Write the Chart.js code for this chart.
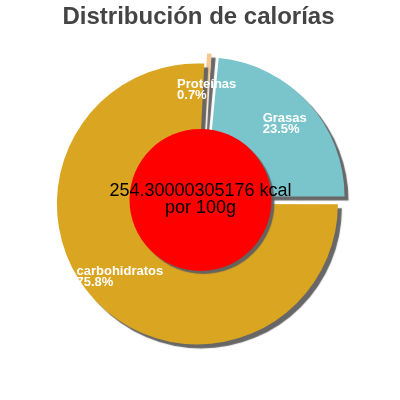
<!DOCTYPE html>
<html>
<head>
<meta charset="utf-8">
<script src="https://cdn.jsdelivr.net/npm/chart.js@4.4.1/dist/chart.umd.min.js"></script>
<style>
  html, body { margin: 0; padding: 0; background: #fff; }
</style>
</head>
<body>
<canvas id="calChart" width="400" height="400"></canvas>
<script>
const nutrients = ['Proteínas', 'Grasas', 'carbohidratos'];
const percents = [0.7, 23.5, 75.8];
const sliceColors = ['#f3c893', '#7ac4cc', '#daa520'];
const sliceOffsets = [22, 38, 6];
const energyLines = ['254.30000305176 kcal', 'por 100g'];
const chartTitle = 'Distribución de calorías';

const FONT = '"Liberation Sans", Arial, sans-serif';

// grey drop shadow under every slice
const shadowPlugin = {
    id: 'sliceShadow',
    beforeDatasetsDraw(chart) {
        const ctx = chart.ctx;
        ctx.save();
        ctx.shadowColor = 'rgba(95,95,95,0.95)';
        ctx.shadowOffsetX = 4;
        ctx.shadowOffsetY = 4;
        ctx.shadowBlur = 1;
    },
    afterDatasetsDraw(chart) {
        chart.ctx.restore();
    }
};

// red disc with the energy value + slice labels
const centerPlugin = {
    id: 'centerInfo',
    afterDraw(chart) {
        const ctx = chart.ctx;
        const meta = chart.getDatasetMeta(0);
        const first = meta.data[0];
        const cx = first.x, cy = first.y;
        const R = first.outerRadius;

        ctx.save();
        ctx.shadowColor = 'rgba(95,95,95,0.95)';
        ctx.shadowOffsetX = 3;
        ctx.shadowOffsetY = 3;
        ctx.shadowBlur = 1;
        ctx.beginPath();
        ctx.arc(cx + 2, cy - 3, 71, 0, Math.PI * 2);
        ctx.fillStyle = '#ff0000';
        ctx.fill();
        ctx.restore();

        ctx.save();
        ctx.fillStyle = '#000';
        ctx.font = '18px ' + FONT;
        ctx.textAlign = 'center';
        ctx.textBaseline = 'alphabetic';
        ctx.fillText(energyLines[0], cx + 2, cy - 7);
        ctx.fillText(energyLines[1], cx + 2, cy + 10);
        ctx.restore();

        ctx.save();
        ctx.font = 'bold 13px ' + FONT;
        ctx.fillStyle = '#fff';
        ctx.textAlign = 'left';
        ctx.textBaseline = 'alphabetic';
        meta.data.forEach((arc, i) => {
            const mid = (arc.startAngle + arc.endAngle) / 2;
            const shift = (arc.options.offset || 0) / 4;
            const d = shift + R * 0.77;
            const px = cx + Math.cos(mid) * d;
            const py = cy + Math.sin(mid) * d;
            const lines = [nutrients[i], percents[i].toFixed(1) + '%'];
            const w = Math.max(...lines.map(l => ctx.measureText(l).width));
            ctx.fillText(lines[0], px - w / 2, py - 3);
            ctx.fillText(lines[1], px - w / 2, py + 8);
        });
        ctx.restore();
    }
};

const ctx = document.getElementById('calChart').getContext('2d');
const calChart = new Chart(ctx, {
    type: 'pie',
    data: {
        labels: nutrients,
        datasets: [{
            data: percents,
            backgroundColor: sliceColors,
            offset: sliceOffsets,
            borderWidth: 0,
            hoverOffset: 0
        }]
    },
    options: {
        responsive: false,
        animation: false,
        events: [],
        rotation: 2.9,
        radius: 139,
        layout: { padding: { left: 0, right: 3, top: 0, bottom: 34 } },
        plugins: {
            legend: { display: false },
            tooltip: { enabled: false },
            title: {
                display: true,
                text: chartTitle,
                color: '#444',
                font: { size: 24, weight: 'bold', family: FONT },
                padding: { top: 3, bottom: 8 }
            }
        }
    },
    plugins: [shadowPlugin, centerPlugin]
});
</script>
</body>
</html>
